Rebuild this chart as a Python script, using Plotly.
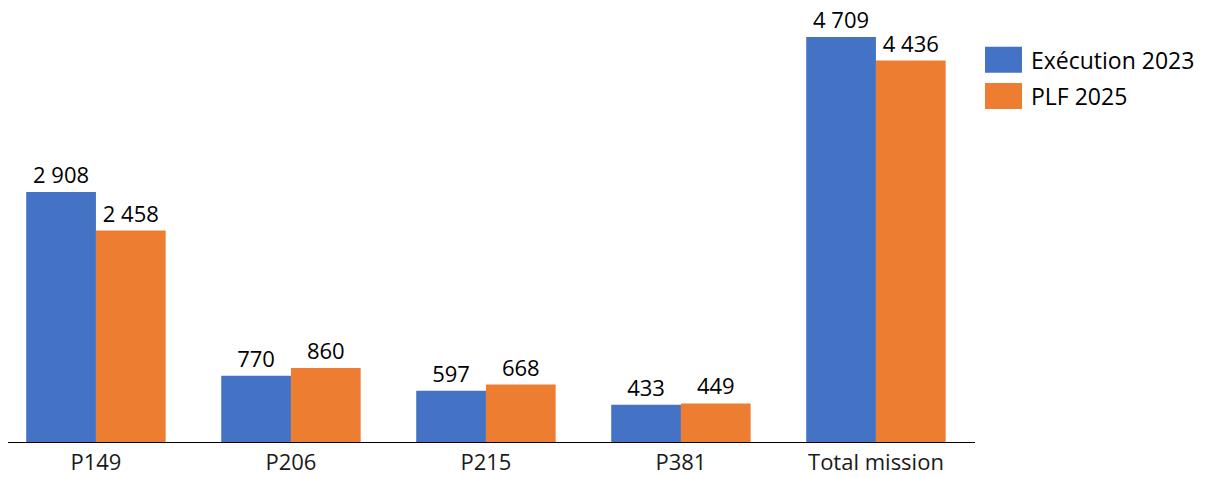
import plotly.graph_objects as go

categories = ["P149", "P206", "P215", "P381", "Total mission"]
exec_2023 = [2908, 770, 597, 433, 4709]
plf_2025 = [2458, 860, 668, 449, 4436]
series_names = ["Exécution 2023", "PLF 2025"]
colors = ["#4472C4", "#ED7D31"]

def fmt(v):
    return f"{v:,}".replace(",", " ")

W, H = 1208, 477
FONT = "Open Sans"
fig = go.Figure()
for name, vals, col in zip(series_names, [exec_2023, plf_2025], colors):
    fig.add_trace(go.Bar(
        x=categories, y=vals, name=name, marker=dict(color=col, line=dict(width=0)),
        text=[fmt(v) for v in vals], textposition="outside",
        textfont=dict(size=22, color="#000000", family=FONT),
        cliponaxis=False, showlegend=False,
    ))

left, right = 8, 975
top, bottom = 8, 441.7
ymax = (bottom - top) / ((441.7 - 37) / 4709)
fig.update_layout(
    width=W, height=H, barmode="group", bargap=0.285, bargroupgap=0,
    margin=dict(l=left, r=W - right, t=top, b=H - bottom, autoexpand=False),
    paper_bgcolor="white", plot_bgcolor="white",
    font=dict(family=FONT, size=22, color="#000000"),
    xaxis=dict(range=[-0.451, 4.508], showline=True, linecolor="#000000", linewidth=1.3,
               ticks="", tickfont=dict(size=22, family=FONT, color="#1a1a1a"),
               ticklabelstandoff=0, showgrid=False, fixedrange=True),
    yaxis=dict(range=[0, ymax], visible=False, showgrid=False, fixedrange=True),
)
# Custom legend
ys = [59.7, 96]
for name, col, yc in zip(series_names, colors, ys):
    fig.add_shape(type="rect", xref="paper", yref="paper",
                  x0=(985 - left) / (right - left), x1=(1022 - left) / (right - left),
                  y0=(bottom - (yc + 13)) / (bottom - top), y1=(bottom - (yc - 13)) / (bottom - top),
                  fillcolor=col, line=dict(width=0))
    fig.add_annotation(xref="paper", yref="paper",
                       x=(1029 - left) / (right - left), y=(bottom - yc) / (bottom - top),
                       text=name, showarrow=False, xanchor="left", yanchor="middle",
                       font=dict(size=23, family=FONT, color="#000000"))
fig.write_html("out.html", config={"displayModeBar": False},
               post_script="document.body.style.margin='0';document.body.style.overflow='hidden';")
